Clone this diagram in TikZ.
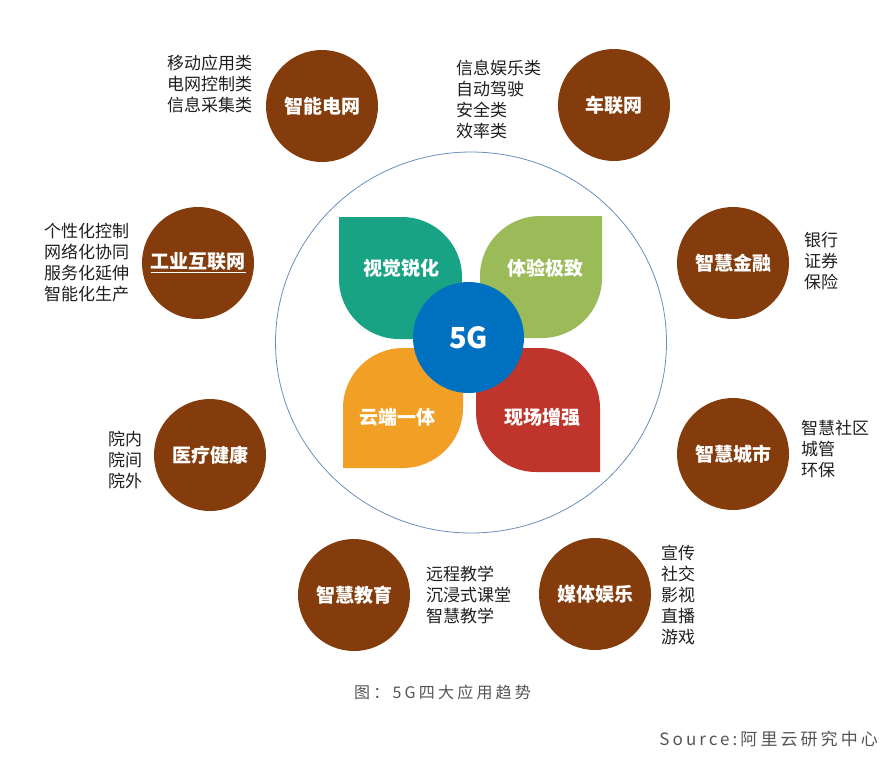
\documentclass[tikz,border=0pt]{standalone}
\usepackage{fontspec}
\setmainfont{Noto Sans CJK SC}
\newfontfamily\capfont[LetterSpace=20]{Noto Sans CJK SC}
\newfontfamily\srcfont[LetterSpace=18]{Noto Sans CJK SC}
\definecolor{brownA}{HTML}{843C0C}
\definecolor{tealA}{HTML}{19A385}
\definecolor{greenA}{HTML}{9BBB59}
\definecolor{orangeA}{HTML}{F29F25}
\definecolor{redA}{HTML}{BF352C}
\definecolor{blueA}{HTML}{0070C0}
\definecolor{ringA}{HTML}{6A8FBA}
\definecolor{capgray}{HTML}{555555}
\tikzset{
  appcircle/.style={circle, fill=brownA, minimum size=112pt, inner sep=0pt, text=white,
    font=\fontsize{19}{22}\selectfont\bfseries},
  itemlist/.style={anchor=west, align=left, inner sep=0pt, text=black!88,
    font=\fontsize{17}{21}\selectfont},
  petallabel/.style={inner sep=0pt, text=white, font=\fontsize{19}{22}\selectfont\bfseries},
  corecircle/.style={circle, fill=blueA, minimum size=111pt, inner sep=0pt, text=white,
    font=\fontsize{29}{32}\selectfont\bfseries},
  ringline/.style={draw=ringA, line width=0.8pt},
}
\begin{document}
\begin{tikzpicture}[x=1pt,y=-1pt]
\useasboundingbox[fill=white] (0,0) rectangle (890,761);

% big ring
\draw[ringline] (471,342.5) ellipse [x radius=195.5, y radius=190.5];

% petals
\fill[tealA] (339,217) -- (402,217) .. controls (435,217) and (462,244) .. (462,277)
  -- (462,339) -- (399,339) .. controls (366,339) and (339,312) .. (339,279) -- cycle;
\fill[greenA] (602,216) -- (602,278) .. controls (602,311) and (575,338) .. (542,338)
  -- (480,338) -- (480,276) .. controls (480,243) and (507,216) .. (540,216) -- cycle;
\fill[orangeA] (463,348) -- (463,408) .. controls (463,441) and (436,468) .. (403,468)
  -- (343,468) -- (343,408) .. controls (343,375) and (370,348) .. (403,348) -- cycle;
\fill[redA] (476,348) -- (540,348) .. controls (573,348) and (600,375) .. (600,408)
  -- (600,472) -- (536,472) .. controls (503,472) and (476,445) .. (476,412) -- cycle;

\node[petallabel] (p1) at (401,268) {视觉锐化};
\node[petallabel] (p2) at (545,268) {体验极致};
\node[petallabel] (p3) at (397,417) {云端一体};
\node[petallabel] (p4) at (542,417) {现场增强};

\node[corecircle] (core) at (468.5,337.5) {5G};

% application circles
\node[appcircle] (grid) at (322,106) {智能电网};
\node[appcircle] (car) at (614,105) {车联网};
\node[appcircle] (ind) at (198,263) {\underline{工业互联网}};
\node[appcircle] (fin) at (733,263) {智慧金融};
\node[appcircle] (med) at (210,455) {医疗健康};
\node[appcircle] (city) at (733,454) {智慧城市};
\node[appcircle] (edu) at (354,595) {智慧教育};
\node[appcircle] (media) at (595,594) {媒体娱乐};

% lists
\node[itemlist] (lgrid) at (167,84) {移动应用类\\电网控制类\\信息采集类};
\node[itemlist] (lcar) at (456,99) {信息娱乐类\\自动驾驶\\安全类\\效率类};
\node[itemlist] (lind) at (44,263) {个性化控制\\网络化协同\\服务化延伸\\智能化生产};
\node[itemlist] (lfin) at (804,261) {银行\\证券\\保险};
\node[itemlist] (lcity) at (801,449) {智慧社区\\城管\\环保};
\node[itemlist] (lmed) at (108,460) {院内\\院间\\院外};
\node[itemlist] (ledu) at (426,595) {远程教学\\沉浸式课堂\\智慧教学};
\node[itemlist] (lmedia) at (661,595) {宣传\\社交\\影视\\直播\\游戏};

% captions
\node[anchor=west, inner sep=0pt, text=capgray, font=\capfont\fontsize{16}{18}\selectfont]
  (caption) at (354,692) {图：5G四大应用趋势};
\node[anchor=east, inner sep=0pt, text=capgray, font=\srcfont\fontsize{17}{19}\selectfont]
  (source) at (878,739) {Source:阿里云研究中心};
\end{tikzpicture}
\end{document}
